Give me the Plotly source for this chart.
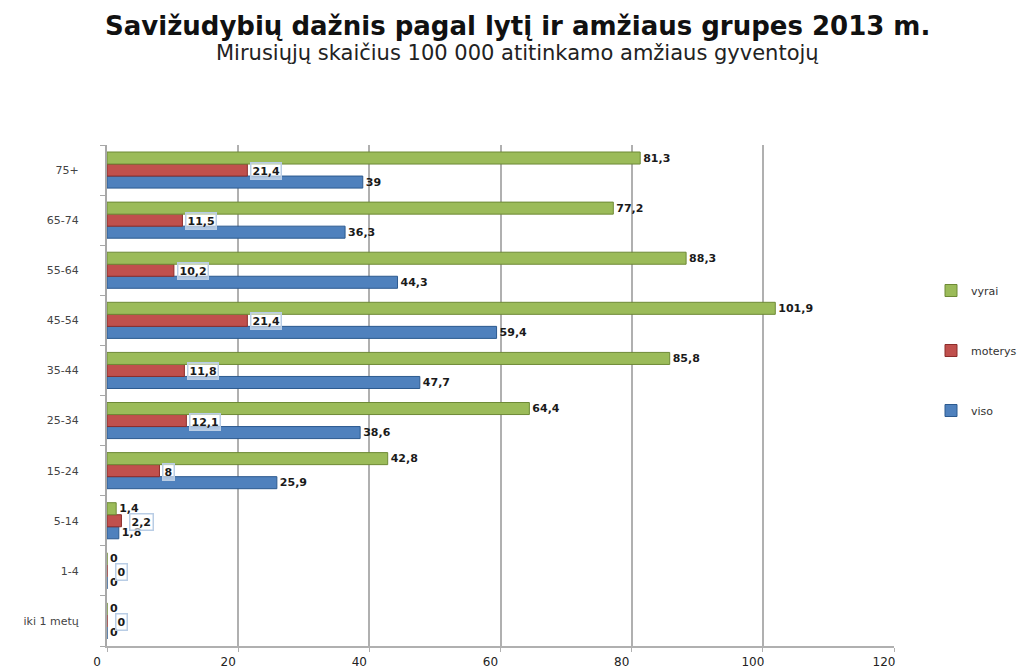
import plotly.graph_objects as go

categories = ["iki 1 metų", "1-4", "5-14", "15-24", "25-34", "35-44", "45-54", "55-64", "65-74", "75+"]
viso = [0, 0, 1.8, 25.9, 38.6, 47.7, 59.4, 44.3, 36.3, 39]
moterys = [0, 0, 2.2, 8, 12.1, 11.8, 21.4, 10.2, 11.5, 21.4]
vyrai = [0, 0, 1.4, 42.8, 64.4, 85.8, 101.9, 88.3, 77.2, 81.3]
x_ticks = [0, 20, 40, 60, 80, 100, 120]

title_text = "Savižudybių dažnis pagal lytį ir amžiaus grupes 2013 m."
subtitle_text = "Mirusiųjų skaičius 100 000 atitinkamo amžiaus gyventojų"


def fmt(v):
    return ("%g" % v).replace(".", ",")


# page body has an 8px margin, so the figure is drawn 8px right/down
OFF = 8
W, H = 1035 - OFF, 670 - OFF
L = 107 - OFF
T = 145 - OFF
R = W - (894 - OFF)
B = H - (646 - OFF)
PW, PH = W - L - R, H - T - B

fig = go.Figure()
label_font = dict(family="DejaVu Sans", size=11, color="#1a1a1a", weight="bold")

fig.add_trace(go.Bar(
    y=categories, x=viso, orientation="h", name="viso",
    marker=dict(color="#4f81bd", line=dict(color="#2c5a8f", width=1)),
    text=[fmt(v) for v in viso], textposition="outside", textfont=label_font,
    constraintext="none",
    cliponaxis=False, legendgroup="c", legendrank=3,
))
fig.add_trace(go.Bar(
    y=categories, x=moterys, orientation="h", name="moterys",
    marker=dict(color="#c0504d", line=dict(color="#8c2d2b", width=1)),
    legendgroup="b", legendrank=2,
))
fig.add_trace(go.Bar(
    y=categories, x=vyrai, orientation="h", name="vyrai",
    marker=dict(color="#9bbb59", line=dict(color="#6e8a36", width=1)),
    text=[fmt(v) for v in vyrai], textposition="outside", textfont=label_font,
    constraintext="none",
    cliponaxis=False, legendgroup="a", legendrank=1,
))

for c, v in zip(categories, moterys):
    fig.add_annotation(
        x=v, y=c, xref="x", yref="y", text=fmt(v), showarrow=False,
        xanchor="left", xshift=3 if v >= 5 else 8, yshift=-1,
        font=label_font, bordercolor="#b9cde5", borderwidth=1.5, borderpad=1,
        bgcolor="rgba(255,255,255,0.55)",
    )

title_x = (517 - OFF - L) / PW
fig.add_annotation(
    text="<b>" + title_text + "</b>",
    x=title_x, y=1 + (T - (26 - OFF)) / PH, xref="paper", yref="paper",
    showarrow=False, yanchor="middle", xanchor="center",
    font=dict(family="DejaVu Sans", size=26, color="#111"),
)
fig.add_annotation(
    text=subtitle_text,
    x=title_x, y=1 + (T - (53 - OFF)) / PH, xref="paper", yref="paper",
    showarrow=False, yanchor="middle", xanchor="center",
    font=dict(family="DejaVu Sans", size=21, color="#222"),
)

fig.update_layout(
    width=W, height=H,
    paper_bgcolor="white", plot_bgcolor="white",
    margin=dict(l=L, r=R, t=T, b=B, autoexpand=False),
    barmode="group", bargap=0.28, bargroupgap=0,
    showlegend=True,
    legend=dict(x=(931 - OFF - L) / PW, y=(H - B - (276 - OFF)) / PH,
                xanchor="left", yanchor="top",
                traceorder="grouped", tracegroupgap=41,
                font=dict(family="DejaVu Sans", size=11, color="#333"),
                itemwidth=30),
    xaxis=dict(range=[0, 120], tickvals=x_ticks, showgrid=True, gridcolor="#b0b0b0",
               gridwidth=1.5, showline=True, linecolor="#b0b0b0", linewidth=1.5,
               ticks="outside", ticklen=4, tickcolor="#b0b0b0", zeroline=False,
               ticklabelshift=-10, automargin=False,
               tickfont=dict(family="DejaVu Sans", size=12, color="#222")),
    yaxis=dict(showline=True, linecolor="#a8a8a8", linewidth=2, ticks="outside",
               tickson="boundaries", ticklen=5, tickcolor="#a8a8a8",
               ticklabelstandoff=24, automargin=False,
               tickfont=dict(family="DejaVu Sans", size=11, color="#444")),
)

fig.write_html("out.html")
